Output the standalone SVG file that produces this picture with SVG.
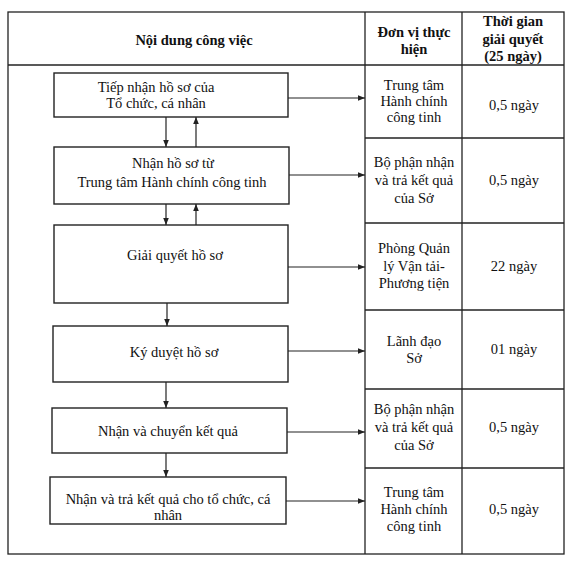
<svg xmlns="http://www.w3.org/2000/svg" width="576" height="566" viewBox="0 0 576 566">
<defs>
<style>
.t{font-family:"Liberation Serif","Times New Roman",serif;font-size:14.5px;fill:#111;text-anchor:middle}
.b{font-weight:bold}
.grid{stroke:#222;stroke-width:1.3;fill:none}
.box{stroke:#222;stroke-width:1.4;fill:#fff}
.ln{stroke:#222;stroke-width:1.2;fill:none}
</style>
<marker id="ah" viewBox="0 0 10 10" refX="10" refY="5" markerWidth="7" markerHeight="7" markerUnits="userSpaceOnUse" orient="auto">
<path d="M0,1 L10,5 L0,9 z" fill="#222"/>
</marker>
</defs>
<rect width="576" height="566" fill="#fff"/>
<g id="table">
<rect class="grid" x="8" y="12" width="556" height="542"/>
<line class="grid" x1="8" y1="65" x2="564" y2="65"/>
<line class="grid" x1="365" y1="12" x2="365" y2="554"/>
<line class="grid" x1="462" y1="12" x2="462" y2="554"/>
<line class="grid" x1="365" y1="138" x2="564" y2="138"/>
<line class="grid" x1="365" y1="223" x2="564" y2="223"/>
<line class="grid" x1="365" y1="310" x2="564" y2="310"/>
<line class="grid" x1="365" y1="389" x2="564" y2="389"/>
<line class="grid" x1="365" y1="468" x2="564" y2="468"/>
<text class="t b" x="194" y="45">Nội dung công việc</text>
<text class="t b" x="414" y="37">Đơn vị thực</text>
<text class="t b" x="414" y="54">hiện</text>
<text class="t b" x="513" y="26">Thời gian</text>
<text class="t b" x="513" y="44">giải quyết</text>
<text class="t b" x="513" y="61">(25 ngày)</text>
</g>
<g id="cells">
<text class="t" x="414" y="90">Trung tâm</text>
<text class="t" x="414" y="106">Hành chính</text>
<text class="t" x="414" y="122">công tinh</text>
<text class="t" x="514" y="110">0,5 ngày</text>
<text class="t" x="414" y="167">Bộ phận nhận</text>
<text class="t" x="414" y="185">và trả kết quả</text>
<text class="t" x="414" y="203">của Sở</text>
<text class="t" x="514" y="185">0,5 ngày</text>
<text class="t" x="414" y="253">Phòng Quản</text>
<text class="t" x="414" y="271">lý Vận tải-</text>
<text class="t" x="414" y="288">Phương tiện</text>
<text class="t" x="514" y="271">22 ngày</text>
<text class="t" x="414" y="346">Lãnh đạo</text>
<text class="t" x="414" y="363">Sở</text>
<text class="t" x="514" y="354">01 ngày</text>
<text class="t" x="414" y="414">Bộ phận nhận</text>
<text class="t" x="414" y="432">và trả kết quả</text>
<text class="t" x="414" y="450">của Sở</text>
<text class="t" x="514" y="432">0,5 ngày</text>
<text class="t" x="414" y="497">Trung tâm</text>
<text class="t" x="414" y="514">Hành chính</text>
<text class="t" x="414" y="531">công tinh</text>
<text class="t" x="514" y="514">0,5 ngày</text>
</g>
<g id="n1">
<rect class="box" x="54" y="73" width="234" height="44"/>
<text class="t" x="156" y="92">Tiếp nhận hồ sơ của</text>
<text class="t" x="156" y="108">Tổ chức, cá nhân</text>
</g>
<g id="n2">
<rect class="box" x="54" y="147" width="235" height="57"/>
<text class="t" x="173" y="168">Nhận hồ sơ từ</text>
<text class="t" x="172" y="187">Trung tâm Hành chính công tinh</text>
</g>
<g id="n3">
<rect class="box" x="54" y="225" width="234" height="78"/>
<text class="t" x="175" y="260">Giải quyết hồ sơ</text>
</g>
<g id="n4">
<rect class="box" x="53" y="326" width="235" height="56"/>
<text class="t" x="174" y="357">Ký duyệt hồ sơ</text>
</g>
<g id="n5">
<rect class="box" x="52" y="408" width="235" height="45"/>
<text class="t" x="168" y="436">Nhận và chuyển kết quả</text>
</g>
<g id="n6">
<rect class="box" x="50" y="477" width="236" height="47"/>
<text class="t" x="168" y="504">Nhận và trả kết quả cho tổ chức, cá</text>
<text class="t" x="168" y="520">nhân</text>
</g>
<g id="connectors">
<line class="ln" x1="288" y1="98" x2="365" y2="98" marker-end="url(#ah)"/>
<line class="ln" x1="289" y1="175" x2="365" y2="175" marker-end="url(#ah)"/>
<line class="ln" x1="288" y1="267" x2="365" y2="267" marker-end="url(#ah)"/>
<line class="ln" x1="288" y1="351" x2="365" y2="351" marker-end="url(#ah)"/>
<line class="ln" x1="287" y1="432" x2="365" y2="432" marker-end="url(#ah)"/>
<line class="ln" x1="286" y1="501" x2="365" y2="501" marker-end="url(#ah)"/>
<line class="ln" x1="166" y1="117" x2="166" y2="147" marker-end="url(#ah)"/>
<line class="ln" x1="196" y1="147" x2="196" y2="117" marker-end="url(#ah)"/>
<line class="ln" x1="166" y1="204" x2="166" y2="225" marker-end="url(#ah)"/>
<line class="ln" x1="196" y1="225" x2="196" y2="204" marker-end="url(#ah)"/>
<line class="ln" x1="167" y1="303" x2="167" y2="326" marker-end="url(#ah)"/>
<line class="ln" x1="166" y1="382" x2="166" y2="408" marker-end="url(#ah)"/>
<line class="ln" x1="166" y1="453" x2="166" y2="477" marker-end="url(#ah)"/>
</g>
</svg>
